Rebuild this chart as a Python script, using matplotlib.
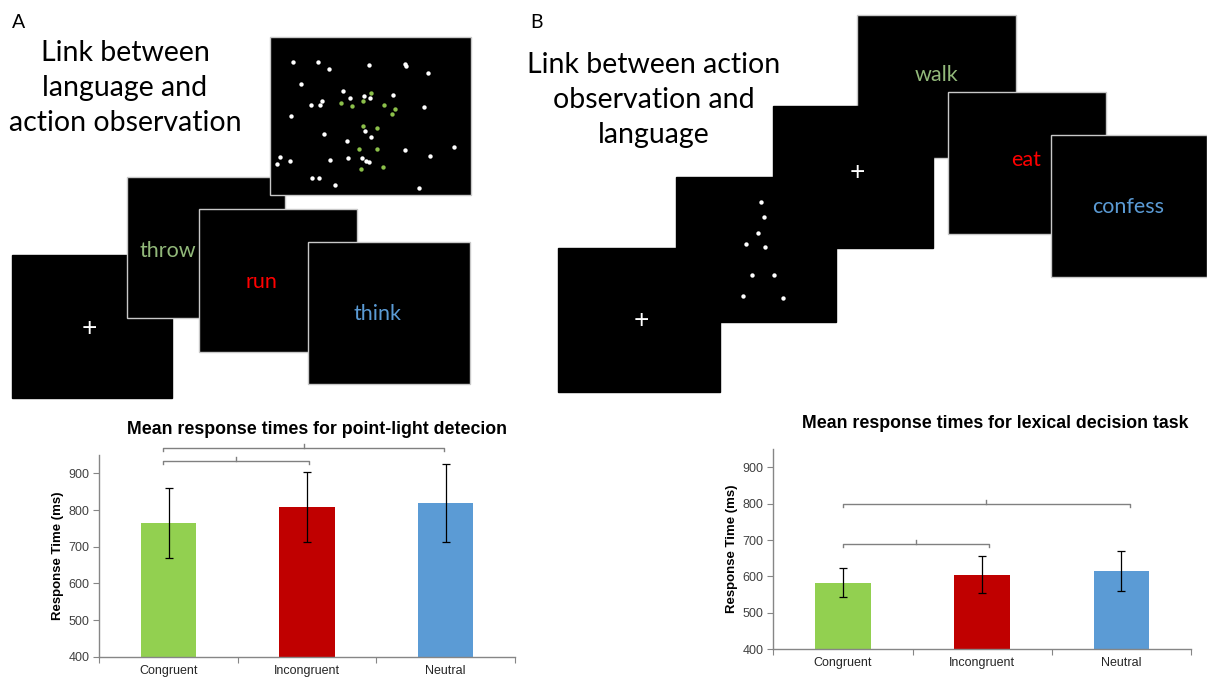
import matplotlib
matplotlib.use("Agg")
import matplotlib.pyplot as plt
from matplotlib.patches import Rectangle

W, H = 1207, 682
DPI = 100

# ---------------- data ----------------
categories = ["Congruent", "Incongruent", "Neutral"]
bar_colors = ["#92d050", "#c00000", "#5b9bd5"]

rt_point_light = [765, 808, 820]
err_point_light = [95, 96, 106]

rt_lexical = [583, 605, 614]
err_lexical = [40, 50, 55]

yticks = [400, 500, 600, 700, 800, 900]

# significance brackets: (x_start, x_end, y_level)
brackets_a = [(-0.04, 1.99, 969), (-0.04, 1.01, 933)]
brackets_b = [(0.0, 2.06, 798), (0.0, 1.05, 688)]

title_a = "Mean response times for point-light detecion"
title_b = "Mean response times for lexical decision task"
ylabel = "Response Time (ms)"

# stimulus screens, pixel positions (x0, y0, x1, y1)
screens_a = [
    ("fix", (12, 255, 172, 398)),
    ("word", (127, 177, 285, 318)),
    ("dots", (270, 37, 471, 195)),
    ("word", (199, 209, 357, 352)),
    ("word", (308, 242, 470, 384)),
]
screens_b = [
    ("word", (857, 15, 1016, 158)),
    ("fix", (676, 177, 836, 322)),
    ("fix", (773, 106, 933, 248)),
    ("fix", (558, 248, 720, 392)),
    ("word", (948, 92, 1106, 234)),
    ("word", (1051, 135, 1207, 277)),
]

words = ["throw", "run", "think", "walk", "eat", "confess"]
word_xy = [(168, 251), (261, 282), (378, 314), (937, 75), (1026, 160), (1128, 207)]
word_colors = ["#92b97a", "#ff0000", "#5b9bd5", "#92b97a", "#ff0000", "#5b9bd5"]

fix_xy = [(89, 328), (857, 173), (641, 321)]

dots_white_a = [(70, 82), (143, 82), (177, 101), (296, 89), (404, 86), (409, 92),
                (475, 113), (93, 147), (218, 168), (241, 190), (283, 183), (300, 190),
                (369, 180), (155, 198), (124, 210), (151, 211), (462, 216), (62, 243),
                (161, 296), (284, 287), (303, 307), (230, 319), (406, 345), (551, 337),
                (31, 366), (22, 388), (59, 379), (181, 375), (233, 369), (277, 368),
                (289, 378), (298, 382), (479, 364), (125, 430), (146, 428), (195, 450),
                (448, 458)]
dots_green_a = [(303, 173), (214, 204), (246, 212), (278, 199), (341, 210), (375, 223),
                (366, 238), (280, 273), (322, 278), (267, 343), (321, 341), (273, 402),
                (340, 397)]
dots_b = [(761, 202), (764, 217), (758, 233), (746, 244), (765, 247), (752, 275),
          (774, 275), (743, 296), (783, 298)]

# ---------------- figure ----------------
fig = plt.figure(figsize=(W / DPI, H / DPI), dpi=DPI)
ax0 = fig.add_axes([0, 0, 1, 1])
ax0.set_xlim(0, W)
ax0.set_ylim(H, 0)
ax0.axis("off")

def draw_screens(screens):
    for kind, (x0, y0, x1, y1) in screens:
        ec = "#c8c8c8" if kind != "fix" else "black"
        ax0.add_patch(Rectangle((x0, y0), x1 - x0, y1 - y0, facecolor="black",
                                edgecolor=ec, linewidth=1.0))

draw_screens(screens_a)
draw_screens(screens_b)

# dots (panel A coordinates from 3x zoom grid)
ax0.scatter([270 + x / 3 for x, y in dots_white_a], [35 + y / 3 for x, y in dots_white_a],
            s=10, color="white", zorder=5, linewidths=0)
ax0.scatter([270 + x / 3 for x, y in dots_green_a], [35 + y / 3 for x, y in dots_green_a],
            s=10, color="#8cc04a", zorder=5, linewidths=0)
ax0.scatter([x for x, y in dots_b], [y for x, y in dots_b],
            s=10, color="white", zorder=5, linewidths=0)

for w, (x, y), c in zip(words, word_xy, word_colors):
    ax0.text(x, y, w, color=c, fontsize=15.5, family="Lato", ha="center", va="center",
             zorder=6)

for x, y in fix_xy:
    ax0.text(x, y, "+", color="white", fontsize=19, family="Lato", ha="center",
             va="center", zorder=6)

ax0.text(19, 22, "A", fontsize=14, family="Lato", ha="center", va="center")
ax0.text(536, 22, "B", fontsize=14, family="Lato", ha="center", va="center")
ax0.text(125, 88, "Link between\nlanguage and\naction observation", fontsize=20.5,
         family="Lato", ha="center", va="center", linespacing=1.45)
ax0.text(654, 100, "Link between action\nobservation and\nlanguage", fontsize=20.5,
         family="Lato", ha="center", va="center", linespacing=1.45)

# ---------------- bar charts ----------------
def px_axes(x0, y0, x1, y1):
    return fig.add_axes([x0 / W, (H - y1) / H, (x1 - x0) / W, (y1 - y0) / H])

def bar_chart(ax, values, errs, brackets, title, title_xy):
    xs = list(range(len(categories)))
    ax.bar(xs, [v - 400 for v in values], bottom=400, width=0.4, color=bar_colors,
           zorder=2)
    ax.errorbar(xs, values, yerr=errs, fmt="none", ecolor="black", elinewidth=0.9,
                capsize=3, capthick=0.9, zorder=3)
    ax.set_xlim(-0.5, 2.5)
    ax.set_ylim(400, 950)
    ax.set_yticks(yticks)
    ax.set_yticklabels([str(t) for t in yticks], family="Liberation Sans", fontsize=9,
                       color="#404040")
    ax.set_xticks([-0.5, 0.5, 1.5, 2.5])
    ax.set_xticklabels([])
    ax.set_xticks(xs, minor=True)
    ax.set_xticklabels(categories, minor=True, family="Liberation Sans", fontsize=9,
                       color="#262626")
    ax.tick_params(axis="x", which="minor", length=0, pad=6)
    ax.tick_params(axis="x", which="major", length=4, color="#868686", direction="out")
    ax.tick_params(axis="y", length=4, color="#868686", direction="out", pad=3)
    for s in ["top", "right"]:
        ax.spines[s].set_visible(False)
    for s in ["left", "bottom"]:
        ax.spines[s].set_color("#868686")
        ax.spines[s].set_linewidth(1.0)
    ax.set_ylabel(ylabel, family="Liberation Sans", fontweight="bold", fontsize=9.5,
                  color="black", labelpad=3)
    ax.patch.set_alpha(0)
    for x0, x1, y in brackets:
        ax.plot([x0, x0, x1, x1], [y - 8, y, y, y - 8], color="#808080", lw=1.0,
                clip_on=False, zorder=4)
        xm = (x0 + x1) / 2
        ax.plot([xm, xm], [y, y + 12], color="#808080", lw=1.0, clip_on=False, zorder=4)
    ax0.text(title_xy[0], title_xy[1], title, family="Liberation Sans", fontweight="bold",
             fontsize=12.8, ha="center", va="center")

axA = px_axes(99.3, 455, 515, 656.7)
bar_chart(axA, rt_point_light, err_point_light, brackets_a, title_a, (317, 430))

axB = px_axes(773.3, 449.3, 1191, 649)
bar_chart(axB, rt_lexical, err_lexical, brackets_b, title_b, (995, 423))

fig.savefig("out.png", dpi=DPI)
